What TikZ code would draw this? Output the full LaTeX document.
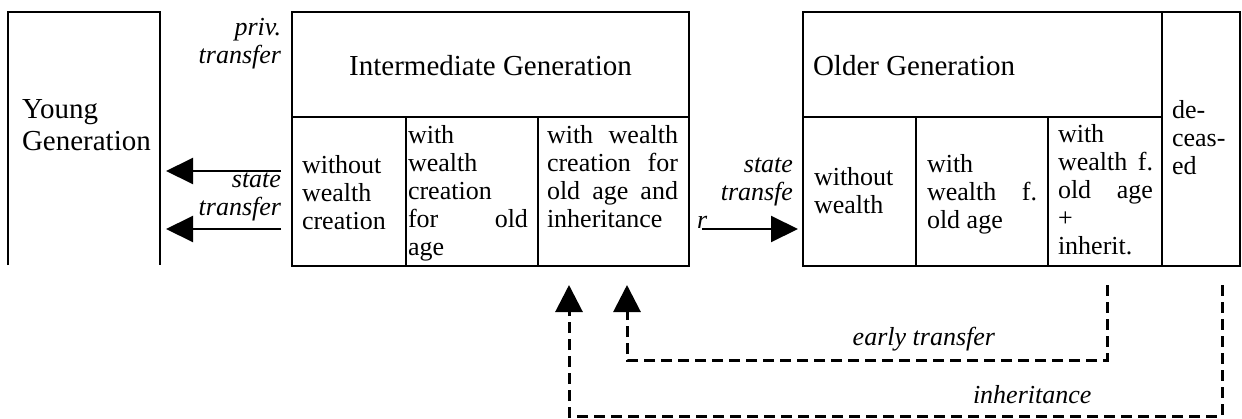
\documentclass[tikz,border=0pt]{standalone}
\usepackage{fontspec}
\setmainfont{Liberation Serif}
\usetikzlibrary{arrows.meta,calc}
\newcommand\bodyfont{\fontsize{26pt}{28pt}\selectfont\tolerance=10000\hbadness=10000\hyphenpenalty=10000}
\newcommand\headfont{\fontsize{29pt}{32pt}\selectfont}
\begin{document}
\begin{tikzpicture}[x=1pt,y=-1pt,
  cell/.style={draw, line width=1.5pt, inner sep=0pt, outer sep=0pt, anchor=north west},
  txt/.style={inner sep=0pt, outer sep=0pt, anchor=base west, font=\bodyfont, align=justify},
  lab/.style={txt, font=\bodyfont\itshape},
  arr/.style={line width=2pt, -{Triangle[length=27pt 0 0, width=26pt 0 0]}},
  dasharr/.style={line width=3pt, dash pattern=on 11pt off 6pt, -{Triangle[length=27pt 0 0, width=27pt 0 0]}}]
\useasboundingbox (0,0) rectangle (1242,418);

% Young generation (open at the bottom)
\node[inner sep=0pt, outer sep=0pt, anchor=north west, minimum width=152pt, minimum height=253pt] (young) at (8,12) {};
\draw[line width=1.5pt] (young.south west) -- (young.north west) -- (young.north east) -- (young.south east);
\node[txt, font=\headfont, text width=140pt, align=left] (tyoung) at (22,118) {Young\\Generation};

% Intermediate generation
\node[cell, minimum width=397pt, minimum height=105pt] (imh) at (292,12) {};
\node[cell, minimum width=114pt, minimum height=149pt] (im1) at (292,117) {};
\node[cell, minimum width=132pt, minimum height=149pt] (im2) at (406,117) {};
\node[cell, minimum width=151pt, minimum height=149pt] (im3) at (538,117) {};
\node[txt, font=\headfont, anchor=base] (timh) at (490.5,75) {Intermediate Generation};
\node[txt, text width=100pt] (tim1) at (302,173) {without\\wealth\\creation};
\node[txt, text width=120pt] (tim2) at (408,143) {with\\wealth\\creation\\for old\linebreak age};
\node[txt, text width=131pt] (tim3) at (547,143) {with wealth\linebreak creation for\linebreak old age and\linebreak inheritance};

% Older generation
\node[cell, minimum width=359pt, minimum height=105pt] (oh) at (803,12) {};
\node[cell, minimum width=113pt, minimum height=149pt] (oc1) at (803,117) {};
\node[cell, minimum width=132pt, minimum height=149pt] (oc2) at (916,117) {};
\node[cell, minimum width=114pt, minimum height=149pt] (oc3) at (1048,117) {};
\node[cell, minimum width=78pt, minimum height=254pt] (dec) at (1162,12) {};
\node[txt, font=\headfont] (toh) at (813,75) {Older Generation};
\node[txt, text width=95pt] (toc1) at (814,185) {without\\wealth};
\node[txt, text width=110pt] (toc2) at (927,172) {with\\wealth f.\linebreak old age};
\node[txt, text width=95pt] (toc3) at (1058,142) {with\\wealth f.\linebreak old age\linebreak +\\inherit.};
\node[txt, text width=62pt, align=left] (tdec) at (1172,118) {de-\\ceas-\\ed};

% labels
\node[lab, text width=100pt, align=right, anchor=base east] (tpriv) at (281,35) {priv.\\transfer\hspace*{8pt}};
\node[lab, text width=100pt, align=right, anchor=base east] (tstateL) at (281,187) {state\\transfer\hspace*{9pt}};
\node[lab, text width=96pt, align=left] (tstateR) at (697,172) {\makebox[96pt][r]{state}\\\makebox[96pt][r]{transfe}\\r};
\node[lab, anchor=base east] (tearly) at (995,345) {early transfer};
\node[lab, anchor=base west] (tinh) at (973,403) {inheritance};

% state transfers
\coordinate (yt1) at ($(young.north east)+(6,159)$);
\coordinate (yt2) at ($(young.north east)+(6,217)$);
\draw[arr] ($(im1.west)+(-11,-20.5)$) -- (yt1);
\draw[arr] ($(im1.west)+(-11,37.5)$) -- (yt2);
\draw[arr] ($(im3.east)+(13,37.5)$) -- ($(oc1.west)+(-5,37.5)$);

% early transfer and inheritance
\draw[dasharr] ($(oc3.south)+(2,19)$) -- ++(0,75) -| ($(im3.south west)+(89,19)$);
\draw[dasharr] ($(dec.south)+(21,19)$) -- ++(0,131) -| ($(im3.south west)+(31,19)$);
\end{tikzpicture}
\end{document}
